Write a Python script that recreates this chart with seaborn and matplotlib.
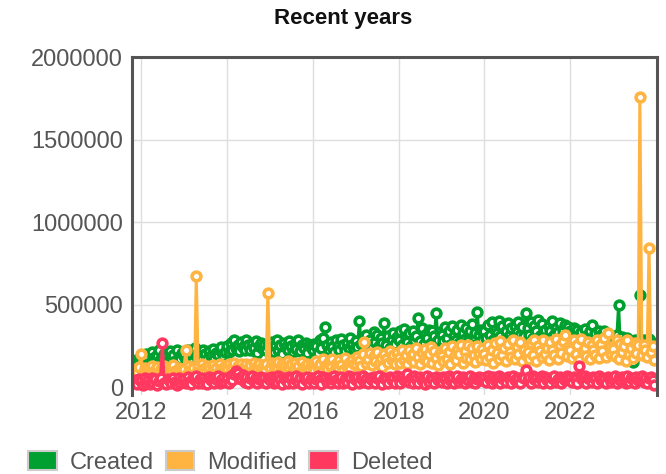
import pandas as pd
import matplotlib.pyplot as plt
import matplotlib.dates as mdates
from matplotlib.patches import Patch
import seaborn as sns

# Halbmonatswerte (Tausend), 1. Nov 2011 bis 15. Dez 2023
dates = pd.date_range("2011-11-01", "2023-12-15", freq="SMS")

created = [
    130, 165, 140, 175,
    160, 190, 145, 205, 170, 150, 215, 180, 160, 195, 225, 170, 150, 200, 185, 165, 220, 175, 195, 160, 230, 185, 170, 210,
    190, 165, 225, 180, 205, 160, 240, 195, 175, 215, 185, 230, 200, 170, 220, 190, 235, 180, 210, 195, 225, 245, 190, 215,
    250, 215, 270, 230, 285, 240, 260, 220, 275, 245, 230, 290, 255, 225, 265, 240, 280, 210, 250, 270, 235, 260, 225, 255,
    240, 275, 215, 260, 290, 230, 255, 200, 270, 245, 225, 280, 250, 215, 265, 235, 285, 220, 255, 240, 270, 210, 260, 245,
    230, 265, 250, 210, 290, 240, 300, 367, 260, 225, 275, 245, 215, 285, 250, 230, 295, 255, 220, 270, 240, 300, 260, 235,
    280, 245, 400, 265, 300, 230, 320, 260, 290, 245, 335, 275, 320, 250, 300, 270, 390, 255, 310, 240, 290, 330, 265, 305,
    290, 340, 260, 355, 300, 275, 330, 250, 345, 290, 310, 420, 280, 360, 265, 320, 300, 350, 270, 340, 310, 450, 290, 335,
    320, 280, 365, 300, 340, 260, 375, 310, 290, 350, 270, 380, 330, 295, 360, 280, 345, 385, 305, 330, 457, 315, 350, 290,
    340, 300, 380, 320, 395, 290, 350, 330, 400, 310, 370, 285, 345, 390, 315, 360, 300, 375, 335, 395, 320, 365, 310, 450,
    360, 320, 395, 300, 370, 340, 410, 310, 385, 330, 350, 290, 375, 345, 400, 315, 360, 335, 390, 305, 350, 380, 325, 365,
    340, 305, 360, 290, 350, 320, 335, 280, 355, 310, 300, 345, 380, 295, 330, 270, 345, 315, 290, 340, 300, 325, 285, 310,
    295, 270, 320, 500, 260, 305, 280, 240, 300, 180, 265, 155, 290, 250, 275, 560, 230, 285, 260, 240, 295, 250, 270, 235,
]
modified = [
    85, 110, 95, 125,
    205, 90, 120, 80, 110, 95, 130, 85, 105, 125, 90, 115, 100, 130, 80, 110, 120, 90, 135, 100, 85, 120, 105, 95,
    115, 227, 90, 130, 105, 120, 85, 675, 125, 100, 140, 110, 95, 130, 115, 90, 135, 105, 120, 90, 140, 115, 100, 130,
    110, 145, 95, 125, 150, 105, 130, 90, 140, 120, 100, 145, 115, 135, 95, 150, 125, 105, 140, 110, 130, 95, 145, 572,
    120, 150, 100, 135, 115, 155, 95, 140, 125, 105, 160, 120, 140, 100, 150, 115, 130, 95, 155, 125, 110, 145, 100, 135,
    130, 105, 160, 120, 145, 95, 170, 130, 110, 155, 125, 175, 100, 145, 120, 165, 135, 105, 180, 125, 150, 110, 165, 140,
    140, 185, 160, 130, 200, 275, 150, 175, 210, 135, 190, 160, 215, 145, 180, 125, 205, 170, 150, 220, 165, 195, 140, 210,
    180, 150, 225, 165, 195, 140, 230, 175, 205, 155, 240, 185, 145, 215, 170, 235, 160, 200, 245, 150, 220, 180, 135, 210,
    190, 160, 240, 175, 215, 145, 250, 185, 165, 230, 200, 255, 150, 220, 180, 260, 170, 240, 195, 155, 250, 205, 175, 235,
    200, 165, 255, 185, 230, 150, 270, 210, 175, 280, 195, 240, 160, 265, 215, 185, 285, 170, 245, 205, 275, 160, 230, 195,
    215, 175, 270, 195, 290, 160, 250, 220, 185, 285, 205, 240, 165, 275, 225, 195, 295, 175, 255, 210, 280, 318, 190, 245,
    225, 180, 285, 200, 260, 165, 295, 215, 240, 190, 275, 170, 255, 230, 195, 290, 180, 265, 220, 300, 185, 330, 245, 200,
    235, 190, 290, 175, 265, 215, 250, 160, 285, 200, 240, 180, 270, 210, 255, 1760, 195, 260, 230, 185, 845, 215, 250, 165,
]
deleted = [
    25, 45, 20, 50,
    40, 15, 55, 30, 45, 20, 60, 25, 50, 15, 40, 55, 270, 30, 20, 50, 45, 25, 60, 35, 15, 55, 30, 45,
    50, 25, 65, 35, 20, 55, 45, 70, 30, 50, 25, 60, 40, 20, 65, 45, 55, 25, 50, 70, 30, 45, 60, 35,
    55, 30, 70, 45, 80, 100, 90, 60, 50, 75, 35, 65, 25, 55, 70, 40, 60, 30, 50, 65, 35, 55, 25, 60,
    45, 65, 25, 55, 35, 70, 50, 20, 60, 45, 30, 65, 55, 25, 50, 70, 35, 60, 20, 55, 45, 65, 30, 50,
    60, 30, 50, 70, 45, 20, 65, 55, 35, 60, 25, 50, 70, 45, 30, 55, 65, 25, 50, 35, 70, 55, 20, 60,
    45, 65, 30, 55, 70, 35, 50, 25, 60, 45, 65, 30, 55, 70, 35, 20, 60, 50, 30, 65, 45, 55, 25, 70,
    50, 30, 65, 45, 55, 80, 35, 60, 25, 70, 50, 30, 65, 45, 55, 20, 70, 35, 60, 50, 30, 65, 45, 55,
    35, 65, 50, 25, 70, 45, 60, 30, 55, 70, 35, 50, 65, 25, 55, 45, 70, 35, 60, 30, 50, 65, 45, 55,
    60, 35, 70, 50, 30, 65, 45, 55, 70, 25, 60, 50, 35, 65, 55, 30, 70, 45, 60, 50, 25, 65, 55, 105,
    45, 65, 30, 70, 50, 60, 35, 55, 70, 30, 65, 45, 55, 25, 60, 70, 35, 50, 65, 30, 55, 45, 70, 50,
    60, 35, 65, 50, 30, 130, 55, 45, 70, 25, 60, 50, 35, 65, 55, 30, 70, 45, 60, 50, 25, 65, 55, 35,
    50, 70, 30, 60, 45, 65, 55, 25, 70, 35, 60, 50, 30, 65, 45, 55, 70, 35, 60, 25, 55, 65, 45, 15,
]

labels = ["Created", "Modified", "Deleted"]
colors = ["#00a030", "#ffb340", "#ff3860"]
year_ticks = ["2012", "2014", "2016", "2018", "2020", "2022"]

df = pd.DataFrame({
    "date": dates,
    "Created": [v * 1000 for v in created],
    "Modified": [v * 1000 for v in modified],
    "Deleted": [v * 1000 for v in deleted],
})

sns.set_style("white")
plt.rcParams["font.family"] = ["Liberation Sans", "DejaVu Sans"]

fig = plt.figure(figsize=(6.66, 4.74), dpi=100)
ax = fig.add_axes([0.198, 0.1667, 0.788, 0.713])

for name, col in zip(labels, colors):
    sns.lineplot(data=df, x="date", y=name, ax=ax, color=col, linewidth=2.2,
                 marker="o", markersize=6.3, markerfacecolor="white",
                 markeredgecolor=col, markeredgewidth=2.6)

ax.set_ylim(-45000, 2000000)
ax.set_xlim(pd.Timestamp("2011-10-15"), pd.Timestamp("2024-01-05"))
ax.set_yticks([0, 500000, 1000000, 1500000, 2000000])
ax.ticklabel_format(axis="y", style="plain", useOffset=False)
ax.set_xticks([pd.Timestamp(y + "-01-01") for y in year_ticks])
ax.xaxis.set_major_formatter(mdates.DateFormatter("%Y"))
ax.set_xlabel("")
ax.set_ylabel("")
ax.grid(True, color="#dedede", linewidth=1)
ax.set_axisbelow(True)
ax.tick_params(length=0, labelsize=17, colors="#555555")
ax.tick_params(axis="y", pad=6.5)
ax.tick_params(axis="x", pad=5)

for s in ["left", "top", "right"]:
    ax.spines[s].set_color("#555555")
    ax.spines[s].set_linewidth(2.2)
ax.spines["bottom"].set_visible(False)

fig.text(0.515, 0.96, "Recent years", ha="center", va="center",
         fontsize=16, fontweight="bold", color="#111111")

handles = [Patch(facecolor=c, edgecolor="#cccccc", linewidth=1.5) for c in colors]
fig.legend(handles, labels, loc="center left", bbox_to_anchor=(0.042, 0.024),
           ncol=3, frameon=False, fontsize=17, labelcolor="#555555",
           borderpad=0, borderaxespad=0,
           handlelength=1.22, handleheight=0.85, handletextpad=0.55, columnspacing=0.5)

fig.savefig("out.png", dpi=100)
